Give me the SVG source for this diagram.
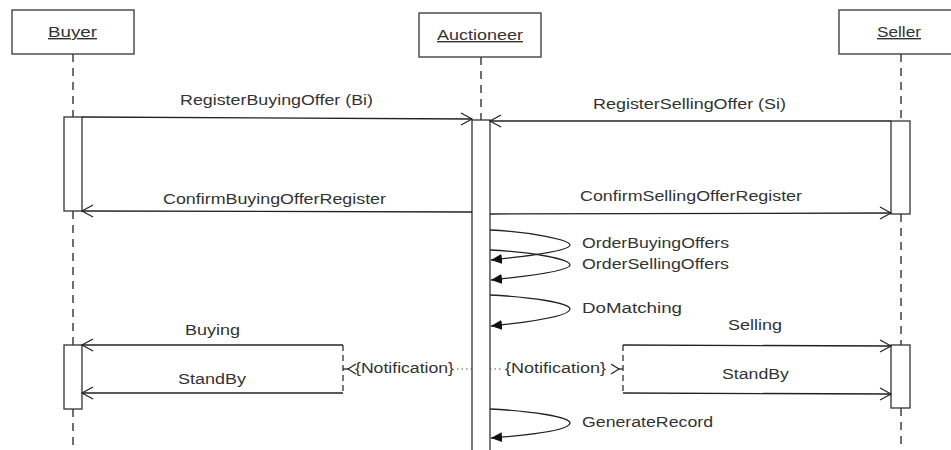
<svg xmlns="http://www.w3.org/2000/svg" width="951" height="450" viewBox="0 0 951 450">
<style>
.box{fill:#fff;stroke:#444;stroke-width:1.4}
.act{fill:#fff;stroke:#333;stroke-width:1.3}
.life{stroke:#333;stroke-width:1.4;stroke-dasharray:8 6;fill:none}
.msg{stroke:#222;stroke-width:1.3;fill:none}
.head{stroke:#222;stroke-width:1.2;fill:none}
.dot{stroke:#555;stroke-width:1.2;stroke-dasharray:1.5 3;fill:none}
.dash{stroke:#333;stroke-width:1.3;stroke-dasharray:6 4;fill:none}
text{font-family:"Liberation Sans",Arial,sans-serif;font-size:14px;fill:#333}
.u{text-decoration:underline}
</style>
<defs>
<marker id="fill" markerWidth="12" markerHeight="10" refX="11" refY="5" orient="auto" markerUnits="userSpaceOnUse">
<path d="M0,0 L11,5 L0,10 Z" fill="#111"/>
</marker>
</defs>
<rect width="951" height="450" fill="#fff"/>

<g id="buyer">
<rect class="box" x="12" y="10" width="122" height="44"/>
<text class="u" x="48" y="37" textLength="49" lengthAdjust="spacingAndGlyphs">Buyer</text>
<path class="life" d="M73,54 V117 M73,211 V345 M73,409 V450"/>
<rect class="act" x="64" y="117" width="18" height="94"/>
<rect class="act" x="64" y="345" width="18" height="64"/>
</g>

<g id="auctioneer">
<rect class="box" x="419" y="13" width="122" height="44"/>
<text class="u" x="437" y="40" textLength="86" lengthAdjust="spacingAndGlyphs">Auctioneer</text>
<path class="life" d="M481,57 V120"/>
<rect class="act" x="472" y="120" width="18" height="340"/>
</g>

<g id="seller">
<rect class="box" x="839" y="10" width="122" height="44"/>
<text class="u" x="877" y="37" textLength="44" lengthAdjust="spacingAndGlyphs">Seller</text>
<path class="life" d="M901,54 V121 M901,214 V345 M901,408 V450"/>
<rect class="act" x="891" y="121" width="19" height="93"/>
<rect class="act" x="891" y="345" width="19" height="63"/>
</g>

<g id="connectors">
<!-- RegisterBuyingOffer -->
<path class="msg" d="M82,117 L472,119"/>
<path class="head" d="M461,113 L472,119 L461,125"/>
<text x="180" y="105" textLength="193" lengthAdjust="spacingAndGlyphs">RegisterBuyingOffer (Bi)</text>
<!-- RegisterSellingOffer -->
<path class="msg" d="M891,121 L490,121"/>
<path class="head" d="M501,115 L490,121 L501,127"/>
<text x="593" y="109" textLength="193" lengthAdjust="spacingAndGlyphs">RegisterSellingOffer (Si)</text>
<!-- ConfirmBuying -->
<path class="msg" d="M472,212 L82,211"/>
<path class="head" d="M93,205 L82,211 L93,217"/>
<text x="163" y="204" textLength="223" lengthAdjust="spacingAndGlyphs">ConfirmBuyingOfferRegister</text>
<!-- ConfirmSelling -->
<path class="msg" d="M490,214 L891,213"/>
<path class="head" d="M880,207 L891,213 L880,219"/>
<text x="580" y="201" textLength="222" lengthAdjust="spacingAndGlyphs">ConfirmSellingOfferRegister</text>

<!-- self calls -->
<path class="msg" marker-end="url(#fill)" d="M490,230 C532,232 570,240 570,245 C570,251 530,256 491,260"/>
<text x="582" y="248" textLength="147" lengthAdjust="spacingAndGlyphs">OrderBuyingOffers</text>
<path class="msg" marker-end="url(#fill)" d="M490,250 C532,252 570,259 570,265 C570,271 530,276 491,280"/>
<text x="582" y="269" textLength="147" lengthAdjust="spacingAndGlyphs">OrderSellingOffers</text>
<path class="msg" marker-end="url(#fill)" d="M490,295 C532,297 570,303 570,309 C570,316 530,322 491,326"/>
<text x="582" y="313" textLength="100" lengthAdjust="spacingAndGlyphs">DoMatching</text>
<path class="msg" marker-end="url(#fill)" d="M490,409 C532,411 570,417 570,423 C570,430 530,435 491,438"/>
<text x="582" y="427" textLength="131" lengthAdjust="spacingAndGlyphs">GenerateRecord</text>

<!-- Buying / StandBy left -->
<path class="msg" d="M343,345 L82,345"/>
<path class="head" d="M93,339 L82,345 L93,351"/>
<text x="185" y="335" textLength="55" lengthAdjust="spacingAndGlyphs">Buying</text>
<path class="msg" d="M343,393 L82,393"/>
<path class="head" d="M93,387 L82,393 L93,399"/>
<text x="178" y="384" textLength="68" lengthAdjust="spacingAndGlyphs">StandBy</text>
<path class="dash" d="M343,345 V393"/>
<path class="msg" d="M343,369 H348"/>
<path class="head" d="M356,364 L348,369 L356,374"/>
<text x="355" y="373" textLength="99" lengthAdjust="spacingAndGlyphs">{Notification}</text>
<path class="dot" d="M457,369 H472"/>

<!-- Selling / StandBy right -->
<path class="dot" d="M490,369 H503"/>
<text x="505" y="373" textLength="101" lengthAdjust="spacingAndGlyphs">{Notification}</text>
<path class="head" d="M611,364 L619,369 L611,374"/>
<path class="msg" d="M619,369 H623"/>
<path class="dash" d="M623,345 V393"/>
<path class="msg" d="M623,345 L891,346"/>
<path class="head" d="M880,340 L891,346 L880,352"/>
<text x="728" y="330" textLength="54" lengthAdjust="spacingAndGlyphs">Selling</text>
<path class="msg" d="M623,393 L891,394"/>
<path class="head" d="M880,388 L891,394 L880,400"/>
<text x="722" y="379" textLength="67" lengthAdjust="spacingAndGlyphs">StandBy</text>
</g>
</svg>
